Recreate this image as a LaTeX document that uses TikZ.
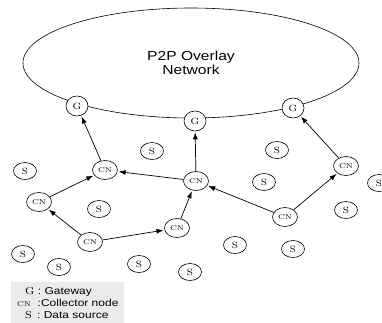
\documentclass[tikz,border=0pt]{standalone}
\usepackage{fontspec}
\setsansfont{Liberation Sans}
\usetikzlibrary{shapes.geometric,arrows.meta}
\newcommand{\wide}[1]{\scalebox{1.2}[1]{#1}}
\tikzstyle{overlay net}=[draw,ellipse,minimum width=336pt,minimum height=110pt,align=center,
  font=\sffamily\fontsize{13}{13.5}\selectfont]
\tikzstyle{gw}=[draw,ellipse,fill=white,minimum width=22pt,minimum height=20pt,inner sep=0pt,font=\small]
\tikzstyle{cn}=[draw,ellipse,fill=white,minimum width=25pt,minimum height=19pt,inner sep=0pt,font=\scriptsize]
\tikzstyle{src}=[draw,ellipse,minimum width=23pt,minimum height=17pt,inner sep=0pt,font=\small]
\tikzstyle{fwd}=[line width=0.7pt,-{Latex[length=7pt,width=5pt]},shorten >=1pt]
\newcommand{\src}[3]{\node[src] (#1) at (#2,#3) {\wide{S}}}
\newcommand{\col}[3]{\node[cn] (#1) at (#2,#3) {\wide{CN}}}

\begin{document}
\begin{tikzpicture}[x=1pt,y=-1pt,line width=0.6pt]
       \useasboundingbox (0,0) rectangle (382,322);
       \clip (0,0) rectangle (382,322);
       % overlay and gateways
       \node[overlay net] (p2p) at (191,63) {\wide{P2P Overlay}\\\wide{Network}};
       \node[gw] (g1) at (77,106) {\wide{G}};
       \node[gw] (g2) at (195,121) {\wide{G}};
       \node[gw] (g3) at (293,108) {\wide{G}};
       % collector nodes
       \col{c1}{105}{170};
       \col{c2}{39}{202};
       \col{c3}{90}{242};
       \col{c4}{177}{228};
       \col{c5}{196}{181};
       \col{c6}{285}{217};
       \col{c7}{346}{166};
       % data sources
       \src{s1}{25}{171};
       \src{s2}{152}{151};
       \src{s3}{99}{209};
       \src{s4}{277}{150};
       \src{s5}{264}{182};
       \src{s6}{379}{183};
       \src{s7}{346}{210};
       \src{s8}{235}{245};
       \src{s9}{293}{249};
       \src{s10}{23}{254};
       \src{s11}{59}{267};
       \src{s12}{139}{264};
       \src{s13}{190}{272};
       % forwarding
       \draw[fwd] (c1) -- (g1);
       \draw[fwd] (c5) -- (g2);
       \draw[fwd] (c7) -- (g3);
       \draw[fwd] (c2) -- (c1);
       \draw[fwd] (c3) -- (c2);
       \draw[fwd] (c3) -- (c4);
       \draw[fwd] (c4) -- (c5);
       \draw[fwd] (c5) -- (c1);
       \draw[fwd] (c6) -- (c5);
       \draw[fwd] (c6) -- (c7);
       % legend
       \node[fill=black!8,anchor=north west,minimum width=113pt,minimum height=41pt,
         inner sep=2pt,align=left,font=\sffamily\fontsize{10}{12}\selectfont] (key) at (11,282)
         {\hspace{8pt}\wide{{\rmfamily G} : Gateway}\\
          \wide{{\rmfamily\scriptsize CN} \ :Collector node}\\
          \hspace{8pt}\wide{{\rmfamily S} \,: Data source}};
     \end{tikzpicture}
\end{document}
